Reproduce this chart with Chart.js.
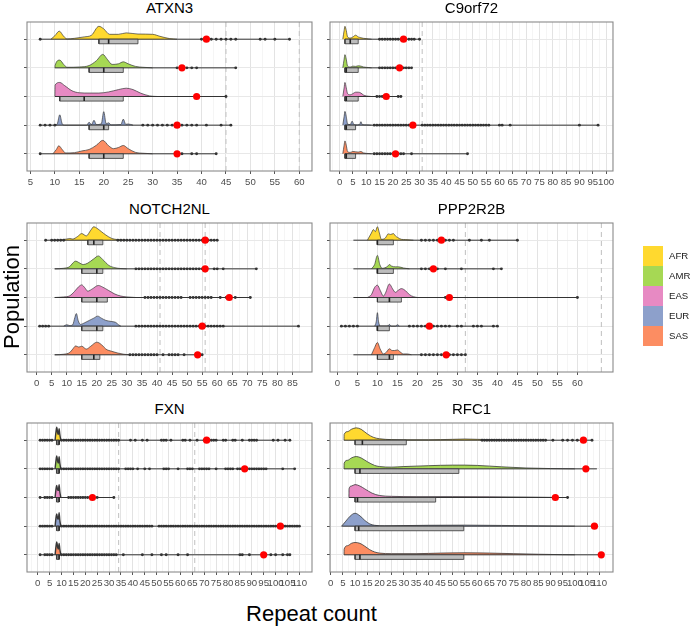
<!DOCTYPE html>
<html><head><meta charset="utf-8">
<script src="https://cdn.jsdelivr.net/npm/chart.js@4.4.1/dist/chart.umd.min.js"></script>
<style>
html,body{margin:0;padding:0;background:#fff;}
#wrap{position:relative;width:692px;height:627px;overflow:hidden;font-family:'Liberation Sans',Arial,sans-serif;}
canvas{position:absolute;}
.title{position:absolute;font-size:15px;line-height:15px;color:#000;text-align:center;white-space:nowrap;}
.key{position:absolute;width:20px;height:20px;}
.klab{position:absolute;font-size:9.6px;line-height:20px;height:20px;color:#1a1a1a;}
</style></head><body><div id="wrap"></div>
<script>
// ---------------- data ----------------
const populations = ['AFR','AMR','EAS','EUR','SAS'];
const popColors = ['#FFD92F','#A6D854','#E78AC3','#8DA0CB','#FC8D62'];
const genes = ['ATXN3','C9orf72','NOTCH2NL','PPP2R2B','FXN','RFC1'];

// ATXN3
const ATXN3_ticks = [5,10,15,20,25,30,35,40,45,50,55,60];
const ATXN3_cutoffs = [45,60];
const ATXN3_box = [[19,21,27],[17,20,24],[11,16,24],[17,20,21],[17,20,24]];
const ATXN3_range = [[7,58],[10,47],[10,45],[7,46],[7,43]];
const ATXN3_red = [41,36,39,35,35];
const ATXN3_outliers = [
  [7,40,42,43,44,45,46,47,52,53,55,58],
  [35,37,38,39,47],
  [45],
  [7,8,9,10,28,29,30,31,32,33,34,36,37,38,39,41,44,46],
  [7,36,38,39,43]
];
const ATXN3_density = [
  [[9.2,0],[10,0.12],[10.9,0.28],[11.8,0.1],[12.5,0.01],[14,0.03],[16,0.08],[17.5,0.14],[19,0.45],[20,0.36],[21.2,0.17],[23,0.17],[24.6,0.22],[27,0.18],[30,0.17],[31.5,0.1],[33.5,0.02],[35,0]],
  [[10,0],[10.05,0.08],[11,0.27],[11.8,0.12],[12.5,0.02],[15,0.03],[17,0.08],[18.5,0.25],[19.8,0.47],[20.8,0.28],[21.7,0.12],[23,0.14],[24,0.21],[25,0.14],[26.5,0.05],[28,0.02],[30,0]],
  [[10,0],[10.05,0.4],[11,0.49],[12,0.38],[13.5,0.2],[15,0.13],[17,0.12],[19,0.12],[21,0.16],[23,0.24],[24.6,0.29],[26,0.24],[27.5,0.12],[29.4,0.02],[31,0]],
  [[10,0],[10.5,0.05],[11,0.36],[11.5,0.05],[12,0],[16.5,0],[17,0.1],[17.5,0.02],[18,0.17],[18.5,0.02],[19.5,0.05],[20,0.47],[20.5,0.05],[21,0.08],[21.5,0.01],[23.5,0.02],[24,0.21],[24.5,0.03],[25,0.04],[26,0]],
  [[9.6,0],[10.3,0.15],[10.8,0.28],[11.5,0.15],[12.2,0.03],[14,0.04],[15.5,0.1],[17,0.15],[18.5,0.3],[19.8,0.47],[21,0.28],[22,0.18],[23,0.22],[24,0.29],[25,0.18],[26.5,0.05],[28,0.02],[30,0]]
];

// C9orf72
const C9orf72_ticks = [0,5,10,15,20,25,30,35,40,45,50,55,60,65,70,75,80,85,90,95,100];
const C9orf72_cutoffs = [31];
const C9orf72_box = [[2,4,7],[2,2.5,7],[2,2.5,7],[2,2.5,6],[2,2.5,6]];
const C9orf72_range = [[2,30],[2,27],[2,23],[2,97],[2,48]];
const C9orf72_red = [24,22.5,17.5,27.5,21];
const C9orf72_outliers = [
  [15,16,17,18,19,20,21,22,23,24,26,27,28,30],
  [15,16,17,18,19,20,21,22,24,25,26,27],
  [14,15,16,22,23],
  [13,14,15,16,17,18,19,20,21,22,23,24,25,26,31,32,33,34,35,36,37,38,39,40,41,42,43,44,45,46,47,48,49,50,51,52,53,54,55,56,60,61,64,90,97],
  [13,14,15,16,17,18,19,20,22,23,24,27,48]
];
const C9orf72_density = [
  [[1.2,0],[1.7,0.3],[2,0.45],[2.5,0.3],[3,0.08],[4,0.04],[5,0.08],[6,0.14],[7,0.08],[8,0.05],[9,0.03],[11,0.01],[12,0]],
  [[1.2,0],[1.7,0.3],[2,0.46],[2.5,0.3],[3,0.06],[4,0.03],[5,0.06],[6,0.05],[7,0.07],[8,0.06],[9,0.03],[11,0.01],[12,0]],
  [[1.2,0],[1.7,0.3],[2,0.49],[2.5,0.3],[3,0.1],[4,0.06],[5,0.1],[6,0.15],[7,0.15],[8,0.12],[9,0.05],[10,0.02],[12,0]],
  [[1.2,0],[1.7,0.3],[2,0.48],[2.5,0.3],[3,0.04],[4,0.02],[4.7,0.14],[5.3,0.03],[6,0.01],[7.5,0.02],[8,0.12],[8.5,0.02],[10,0.01],[12,0]],
  [[1.2,0],[1.7,0.3],[2,0.45],[2.5,0.3],[3,0.08],[4,0.05],[5,0.08],[6,0.07],[7,0.06],[8,0.08],[9,0.03],[11,0.01],[12,0]]
];

// NOTCH2NL
const NOTCH2NL_ticks = [0,5,10,15,20,25,30,35,40,45,50,55,60,65,70,75,80,85];
const NOTCH2NL_cutoffs = [41,56];
const NOTCH2NL_box = [[17,19,22],[15,20,22],[15,20,23.5],[15,20,22],[15,19,21]];
const NOTCH2NL_range = [[3,60],[6,73],[6,71],[1,87],[6,55]];
const NOTCH2NL_red = [56,56,64,55,53.5];
const NOTCH2NL_outliers = [
  [3,5,6,7,8,9,27,28,29,30,31,32,33,34,35,36,37,38,39,40,41,42,43,44,45,46,47,48,49,50,51,52,53,54,55,57,58,59,60],
  [33,34,35,36,37,38,39,40,41,42,43,44,45,46,47,48,49,50,51,52,53,54,55,59,60,62,73],
  [36,37,38,39,40,41,42,43,44,45,46,47,48,51,52,53,54,55,56,57,58,61,63,66,71],
  [1,2,3,4,33,34,35,36,37,38,39,40,41,42,43,44,45,46,47,48,49,50,51,52,53,54,56,57,58,59,60,61,62,87],
  [31,32,33,34,35,36,37,38,39,40,42,44,45,46,47,49,55]
];
const NOTCH2NL_density = [
  [[5.5,0],[8,0.01],[10,0.04],[11,0.06],[12,0.04],[13.5,0.12],[15,0.23],[16.5,0.15],[18,0.35],[19,0.47],[20,0.42],[21.5,0.3],[23,0.18],[25,0.06],[27,0.02],[30,0]],
  [[6,0],[9,0.02],[11,0.08],[12,0.2],[13,0.27],[14,0.22],[15.5,0.15],[17,0.2],[19,0.35],[20.5,0.45],[22,0.32],[24,0.12],[26,0.04],[28,0.01],[30,0]],
  [[6,0],[9,0.02],[11,0.06],[12.5,0.2],[14,0.38],[15,0.44],[16,0.34],[17,0.22],[18.5,0.3],[20.5,0.42],[22,0.36],[24,0.24],[26,0.12],[28,0.05],[30,0.02],[33,0]],
  [[9,0],[10,0.05],[11,0.02],[12,0.05],[12.7,0.3],[13.2,0.44],[13.8,0.2],[14.5,0.06],[16,0.12],[17.5,0.2],[19,0.28],[20.3,0.35],[21.5,0.28],[23,0.2],[25,0.16],[26.3,0.13],[27.3,0.04],[28,0]],
  [[6,0],[9,0.02],[11,0.08],[12,0.2],[13,0.31],[14,0.27],[15,0.3],[16.5,0.2],[18,0.3],[20,0.44],[21.5,0.36],[23,0.2],[25,0.12],[27,0.06],[29,0.02],[31,0]]
];

// PPP2R2B
const PPP2R2B_ticks = [0,5,10,15,20,25,30,35,40,45,50,55,60];
const PPP2R2B_cutoffs = [32,66];
const PPP2R2B_box = [[10,10,14],[10,10,14],[10,13,16],[10,10,13],[10,13,14]];
const PPP2R2B_range = [[4,45],[4,41],[4,60],[1,40],[4,32]];
const PPP2R2B_red = [26,24,28,23,27.2];
const PPP2R2B_outliers = [
  [21,22,23,24,25,27,28,29,33,36,38,45],
  [21,22,23,25,27,31,39,41],
  [27,60],
  [1,2,3,4,5,18,19,20,21,22,24,25,26,27,28,30,31,34,35,36,39,40],
  [21,22,23,24,25,26,28,29,30,31,32]
];
const PPP2R2B_density = [
  [[7.5,0],[8.5,0.25],[9,0.37],[9.5,0.3],[10,0.47],[10.5,0.25],[11,0.03],[12,0.08],[12.7,0.22],[13.3,0.2],[14,0.23],[14.5,0.15],[15,0.1],[16,0.03],[17,0.02],[19,0]],
  [[8.5,0],[9.3,0.15],[10,0.47],[10.6,0.15],[11.2,0.02],[12.5,0.08],[13,0.15],[13.5,0.1],[14.5,0.07],[15.3,0.07],[16.5,0.03],[18,0]],
  [[7.5,0],[8.5,0.1],[9.3,0.35],[10,0.43],[10.7,0.25],[11.5,0.05],[12,0.15],[13,0.47],[13.8,0.3],[14.5,0.18],[15.2,0.25],[16,0.31],[17,0.24],[18,0.1],[19,0.03],[20,0]],
  [[9.3,0],[9.7,0.15],[10,0.47],[10.3,0.15],[10.7,0],[12.5,0],[13,0.06],[13.5,0],[14.5,0],[15,0.05],[15.5,0]],
  [[8.5,0],[9.3,0.25],[10,0.43],[10.7,0.2],[11.5,0.03],[12.3,0.1],[13,0.21],[13.7,0.15],[14.3,0.15],[15,0.17],[15.7,0.1],[16.5,0.03],[17.5,0.03],[18.5,0]]
];

// FXN
const FXN_ticks = [0,5,10,15,20,25,30,35,40,45,50,55,60,65,70,75,80,85,90,95,100,105,110];
const FXN_cutoffs = [34,66];
const FXN_box = [[8,9,9],[8,9,9],[8,9,9],[8,9,9],[8,9,9]];
const FXN_range = [[1,106],[1,108],[1,32],[1,110],[1,106]];
const FXN_red = [71,87,23,102,95];
const FXN_outliers = [
  [1,2,3,4,5,6,10,11,12,13,14,15,16,17,18,19,20,21,22,23,24,25,26,27,28,29,30,31,32,33,34,39,41,44,46,52,53,54,56,61,62,64,67,70,72,73,74,75,78,79,82,83,86,89,90,91,92,99,101,104,106],
  [1,2,3,4,5,6,10,11,12,13,14,15,16,17,18,19,20,21,22,23,24,25,26,27,28,29,30,31,32,33,34,37,38,39,40,42,45,47,53,54,55,59,63,64,65,68,69,70,71,72,75,79,80,81,82,84,85,86,89,90,91,92,93,94,95,96,103,108],
  [1,3,4,5,6,13,14,15,16,17,18,19,20,21,22,25,32],
  [1,2,3,4,5,6,10,11,12,13,14,15,16,17,18,19,20,21,22,23,24,25,26,27,28,29,30,31,32,33,34,35,36,37,38,39,40,41,42,43,44,45,46,47,48,51,52,53,54,55,56,57,58,59,60,61,62,63,64,65,66,67,68,69,70,71,72,73,74,75,76,77,78,79,80,81,82,83,84,85,86,87,88,89,90,91,92,93,94,95,96,97,98,99,100,101,102,103,104,105,106,107,108,109,110],
  [1,3,4,5,6,10,11,12,13,14,15,16,17,18,19,20,21,22,23,24,25,26,27,28,29,30,31,32,33,36,44,48,52,54,59,63,85,86,89,98,100,103,105,106]
];
const FXN_density = [
  [[7.3,0],[7.7,0.3],[8,0.45],[8.4,0.25],[8.7,0.2],[9,0.4],[9.3,0.2],[9.7,0]],
  [[7.3,0],[7.7,0.3],[8,0.45],[8.4,0.25],[8.7,0.2],[9,0.42],[9.3,0.2],[9.7,0]],
  [[7.3,0],[7.7,0.3],[8,0.42],[8.4,0.25],[8.7,0.25],[9,0.45],[9.3,0.2],[9.7,0]],
  [[7.3,0],[7.7,0.3],[8,0.43],[8.4,0.25],[8.7,0.25],[9,0.47],[9.3,0.2],[9.7,0]],
  [[7.3,0],[7.7,0.3],[8,0.45],[8.4,0.25],[8.7,0.2],[9,0.4],[9.3,0.2],[9.7,0]]
];

// RFC1
const RFC1_ticks = [0,5,10,15,20,25,30,35,40,45,50,55,60,65,70,75,80,85,90,95,100,105,110];
const RFC1_cutoffs = [];
const RFC1_box = [[10,13,31],[10,12,52.5],[10,11,43],[10,11.5,54.5],[10,12,54.5]];
const RFC1_range = [[5.5,107],[5.5,109],[7.5,97],[4.5,109.5],[5.5,110.5]];
const RFC1_red = [103.5,104.5,92,108,110.8];
const RFC1_outliers = [
  [62,63,64,65,66,67,68,69,70,71,72,73,74,75,76,77,78,79,80,81,82,83,84,85,86,87,88,91,95,97,99,101,107],
  [],
  [97],
  [],
  []
];
const RFC1_density = [
  [[5.5,0],[5.55,0.2],[7,0.3],[8.5,0.38],[10.5,0.43],[12.5,0.38],[15,0.22],[17.5,0.1],[20,0.05],[25,0.02],[30,0.015],[40,0.015],[50,0.03],[55,0.04],[60,0.03],[70,0.01],[80,0]],
  [[5.5,0],[5.55,0.2],[7,0.3],[8.5,0.38],[10.5,0.43],[12.5,0.38],[15,0.25],[18,0.12],[20,0.08],[25,0.06],[30,0.08],[40,0.11],[50,0.13],[55,0.13],[60,0.12],[70,0.07],[80,0.03],[90,0.01],[100,0]],
  [[7.5,0],[7.55,0.3],[8.5,0.4],[10,0.45],[12,0.4],[14,0.3],[17,0.15],[20,0.07],[25,0.04],[35,0.03],[50,0.03],[65,0.025],[80,0.015],[90,0.005],[92,0]],
  [[4.5,0],[6,0.15],[8,0.35],[10,0.45],[12,0.36],[14,0.2],[16,0.08],[18,0.03],[22,0.01],[30,0.02],[40,0.03],[55,0.035],[70,0.025],[85,0.01],[100,0]],
  [[5.5,0],[5.55,0.2],[7,0.32],[8.5,0.4],[10,0.43],[12,0.4],[14,0.3],[16,0.18],[18,0.1],[20,0.06],[25,0.04],[35,0.04],[45,0.06],[55,0.07],[65,0.06],[75,0.04],[85,0.02],[95,0.005],[100,0]]
];

// ---------------- tables built from the arrays ----------------
const geneData = {
  ATXN3:{ticks:ATXN3_ticks,cutoffs:ATXN3_cutoffs,box:ATXN3_box,range:ATXN3_range,red:ATXN3_red,outliers:ATXN3_outliers,density:ATXN3_density},
  C9orf72:{ticks:C9orf72_ticks,cutoffs:C9orf72_cutoffs,box:C9orf72_box,range:C9orf72_range,red:C9orf72_red,outliers:C9orf72_outliers,density:C9orf72_density},
  NOTCH2NL:{ticks:NOTCH2NL_ticks,cutoffs:NOTCH2NL_cutoffs,box:NOTCH2NL_box,range:NOTCH2NL_range,red:NOTCH2NL_red,outliers:NOTCH2NL_outliers,density:NOTCH2NL_density},
  PPP2R2B:{ticks:PPP2R2B_ticks,cutoffs:PPP2R2B_cutoffs,box:PPP2R2B_box,range:PPP2R2B_range,red:PPP2R2B_red,outliers:PPP2R2B_outliers,density:PPP2R2B_density},
  FXN:{ticks:FXN_ticks,cutoffs:FXN_cutoffs,box:FXN_box,range:FXN_range,red:FXN_red,outliers:FXN_outliers,density:FXN_density},
  RFC1:{ticks:RFC1_ticks,cutoffs:RFC1_cutoffs,box:RFC1_box,range:RFC1_range,red:RFC1_red,outliers:RFC1_outliers,density:RFC1_density}
};

// layout (positions, axis limits, styling)
const panels = [
  {gene:'ATXN3',   left:27, top:22,  w:285, h:149, xmin:4.3,   xmax:62.6,  slabLine:0.7},
  {gene:'C9orf72', left:330,top:22,  w:283, h:149, xmin:-3.6,  xmax:102.6, slabLine:0.7},
  {gene:'NOTCH2NL',left:27, top:223, w:285, h:149, xmin:-3.2,  xmax:91.5,  slabLine:0.7},
  {gene:'PPP2R2B', left:330,top:223, w:283, h:149, xmin:-1.85, xmax:68.9,  slabLine:0.7},
  {gene:'FXN',     left:27, top:423, w:285, h:149, xmin:-4.5,  xmax:115.3, slabLine:1.4},
  {gene:'RFC1',    left:330,top:423, w:283, h:149, xmin:-0.25, xmax:115.6, slabLine:0.8}
];
const titleTops = {22:0, 223:200.5, 423:400.6};

const BOX_H = 0.16;
const PADL = 12, PADT = 4, XAX = 25, PADB = 3, PADR = 12;

Chart.defaults.font.family = "'Liberation Sans', Arial, sans-serif";

const framePlugin = {
  id:'frame',
  afterDraw(chart){
    const {ctx, chartArea:a} = chart;
    ctx.save();
    ctx.strokeStyle = '#8a8a8a';
    ctx.lineWidth = 1.1;
    ctx.strokeRect(a.left, a.top, a.right - a.left, a.bottom - a.top);
    ctx.restore();
  }
};

function buildDatasets(g, P){
  const ds = [];
  g.cutoffs.forEach(v => ds.push({
    data:[{x:v,y:0.4},{x:v,y:5.6}], borderColor:'#c6c6c6', borderWidth:1.1,
    borderDash:[5,4], pointRadius:0, fill:false, order:9
  }));
  populations.forEach((p,i) => {
    const row = i + 1;
    ds.push({
      data:g.density[i].map(([x,h]) => ({x, y:row - h})),
      fill:{value:row}, backgroundColor:popColors[i], borderColor:'#383838',
      borderWidth:P.slabLine, pointRadius:0, cubicInterpolationMode:'monotone', order:8
    });
    ds.push({
      data:[{x:g.range[i][0],y:row},{x:g.range[i][1],y:row}],
      borderColor:'#333', borderWidth:1, pointRadius:0, fill:false, order:7
    });
    const [q1, med, q3] = g.box[i];
    // box fill
    ds.push({
      data:[{x:q1,y:row+BOX_H},{x:q3,y:row+BOX_H}],
      fill:{value:row}, backgroundColor:'#bdbdbd', borderColor:'rgba(0,0,0,0)',
      borderWidth:0, pointRadius:0, order:6
    });
    // box outline
    ds.push({
      data:[{x:q1,y:row},{x:q1,y:row+BOX_H},{x:q3,y:row+BOX_H},{x:q3,y:row},{x:q1,y:row}],
      fill:false, borderColor:'#333', borderWidth:0.8, pointRadius:0, order:5
    });
    ds.push({
      data:[{x:med,y:row},{x:med,y:row+BOX_H}],
      borderColor:'#222', borderWidth:1.6, pointRadius:0, fill:false, order:4
    });
    ds.push({
      data:g.outliers[i].map(x => ({x, y:row})), showLine:false,
      pointRadius:1.45, pointBackgroundColor:'#333', pointBorderWidth:0, order:3
    });
  });
  ds.push({
    data:g.red.map((x,i) => ({x, y:i+1})), showLine:false,
    pointRadius:3.6, pointBackgroundColor:'#ff0000', pointBorderWidth:0, order:1
  });
  return ds;
}

const wrap = document.getElementById('wrap');

panels.forEach(P => {
  const g = geneData[P.gene];
  const labelSet = new Set(g.ticks);
  const allTicks = [];
  const first = g.ticks[0], last = g.ticks[g.ticks.length-1];
  for (let v = first - 2.5; v <= last + 2.5 + 1e-9; v += 2.5) {
    if (v >= P.xmin && v <= P.xmax) allTicks.push(v);
  }

  const cv = document.createElement('canvas');
  const W = P.w + PADL + PADR, H = P.h + PADT + XAX + PADB;
  cv.width = W; cv.height = H;
  cv.style.left = (P.left - PADL) + 'px';
  cv.style.top = (P.top - PADT) + 'px';
  cv.style.width = W + 'px'; cv.style.height = H + 'px';
  wrap.appendChild(cv);

  new Chart(cv, {
    type:'line',
    data:{datasets:buildDatasets(g, P)},
    options:{
      responsive:false, animation:false, devicePixelRatio:1, events:[],
      layout:{padding:{left:0, right:PADR, top:PADT, bottom:PADB}},
      plugins:{legend:{display:false}, tooltip:{enabled:false}, title:{display:false}},
      scales:{
        x:{
          type:'linear', min:P.xmin, max:P.xmax,
          afterBuildTicks:s => { s.ticks = allTicks.map(v => ({value:v})); },
          afterFit:s => { s.height = XAX; s.paddingLeft = 0; s.paddingRight = 0; },
          ticks:{autoSkip:false, maxRotation:0, minRotation:0, padding:3, color:'#4d4d4d',
                 font:{size:9.6}, callback:v => labelSet.has(v) ? String(v) : ''},
          grid:{
            color:c => (c.tick && labelSet.has(c.tick.value)) ? '#e3e3e3' : '#f0f0f0',
            lineWidth:c => (c.tick && labelSet.has(c.tick.value)) ? 1 : 0.7,
            drawTicks:true, tickLength:3,
            tickColor:c => (c.tick && labelSet.has(c.tick.value)) ? '#444' : 'rgba(0,0,0,0)',
            tickWidth:0.9
          },
          border:{display:false}
        },
        y:{
          type:'linear', min:0.4, max:5.6, reverse:true,
          afterBuildTicks:s => { s.ticks = [1,2,3,4,5].map(v => ({value:v})); },
          afterFit:s => { s.width = PADL; s.paddingTop = 0; s.paddingBottom = 0; },
          ticks:{display:false},
          grid:{color:'#e8e8e8', lineWidth:1, drawTicks:true, tickLength:3, tickColor:'#444', tickWidth:0.9},
          border:{display:false}
        }
      }
    },
    plugins:[framePlugin]
  });

  const t = document.createElement('div');
  t.className = 'title';
  t.textContent = P.gene;
  t.style.left = P.left + 'px';
  t.style.width = P.w + 'px';
  t.style.top = titleTops[P.top] + 'px';
  wrap.appendChild(t);
});

// axis titles
const yl = document.createElement('div');
yl.textContent = 'Population';
Object.assign(yl.style, {position:'absolute', left:(12-100)+'px', top:(297-11)+'px', width:'200px',
  height:'22px', lineHeight:'22px', fontSize:'22px', textAlign:'center', color:'#000',
  transform:'rotate(-90deg)', transformOrigin:'50% 50%'});
wrap.appendChild(yl);

const xl = document.createElement('div');
xl.textContent = 'Repeat count';
Object.assign(xl.style, {position:'absolute', left:(311.5-150)+'px', top:'603px', width:'300px',
  height:'22px', lineHeight:'22px', fontSize:'22px', textAlign:'center', color:'#000'});
wrap.appendChild(xl);

// legend
populations.forEach((p,i) => {
  const k = document.createElement('div');
  k.className = 'key';
  k.style.left = '643px'; k.style.top = (246 + i*20) + 'px';
  k.style.background = popColors[i];
  wrap.appendChild(k);
  const l = document.createElement('div');
  l.className = 'klab';
  l.textContent = p;
  l.style.left = '669px'; l.style.top = (246 + i*20) + 'px';
  wrap.appendChild(l);
});
</script>
</body></html>
